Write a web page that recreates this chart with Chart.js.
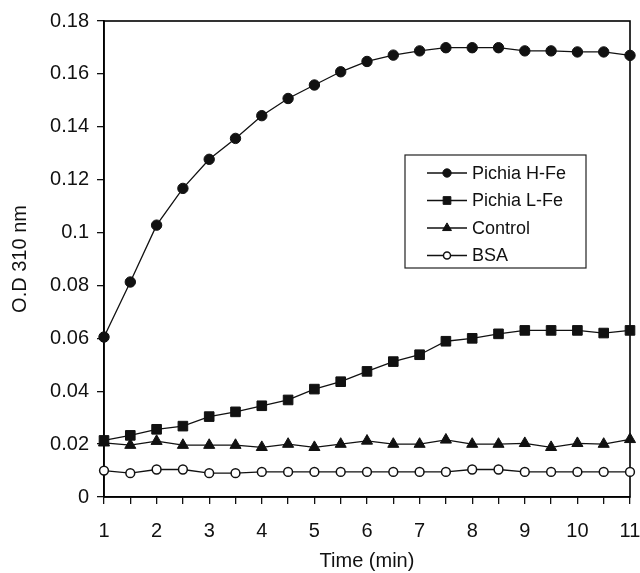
<!DOCTYPE html>
<html>
<head>
<meta charset="utf-8">
<script src="https://cdn.jsdelivr.net/npm/chart.js@4.4.1/dist/chart.umd.min.js"></script>
<style>
  html, body { margin: 0; padding: 0; background: #fff; }
  #wrap { width: 640px; height: 573px; }
</style>
</head>
<body>
<div id="wrap"><canvas id="odChart" width="640" height="573"></canvas></div>
<script>
// time points (min)
const times = [1, 1.5, 2, 2.5, 3, 3.5, 4, 4.5, 5, 5.5, 6, 6.5, 7, 7.5, 8, 8.5, 9, 9.5, 10, 10.5, 11];

// O.D 310 nm readings
const pichiaHFe = [0.0605, 0.0813, 0.1028, 0.1167, 0.1277, 0.1356, 0.1442, 0.1507, 0.1558, 0.1608, 0.1647,
                   0.1671, 0.1687, 0.1699, 0.1699, 0.1699, 0.1687, 0.1687, 0.1683, 0.1683, 0.1670];
const pichiaLFe = [0.0214, 0.0233, 0.0256, 0.0268, 0.0304, 0.0322, 0.0345, 0.0367, 0.0408, 0.0436, 0.0475,
                   0.0512, 0.0538, 0.0589, 0.0600, 0.0617, 0.0630, 0.0630, 0.0630, 0.0620, 0.0630];
const control   = [0.0205, 0.0196, 0.0211, 0.0196, 0.0196, 0.0196, 0.0188, 0.0200, 0.0188, 0.0200, 0.0212,
                   0.0200, 0.0200, 0.0216, 0.0200, 0.0200, 0.0203, 0.0188, 0.0203, 0.0200, 0.0218];
const bsa       = [0.0100, 0.0090, 0.0104, 0.0104, 0.0090, 0.0090, 0.0095, 0.0095, 0.0095, 0.0095, 0.0095,
                   0.0095, 0.0095, 0.0095, 0.0104, 0.0104, 0.0095, 0.0095, 0.0095, 0.0095, 0.0095];

const seriesNames = ['Pichia H-Fe', 'Pichia L-Fe', 'Control', 'BSA'];
const yTickValues = [0, 0.02, 0.04, 0.06, 0.08, 0.1, 0.12, 0.14, 0.16, 0.18];

const FONT = 'Liberation Sans, Arial, sans-serif';

function toPoints(values) {
    return times.map((t, i) => ({ x: t, y: values[i] }));
}

function makeSet(name, values, style, radius, fill) {
    return {
        label: name,
        data: toPoints(values),
        borderColor: '#111',
        borderWidth: 1.3,
        pointStyle: style,
        pointRadius: radius,
        pointBackgroundColor: fill,
        pointBorderColor: '#111',
        pointBorderWidth: fill === '#fff' ? 1.5 : 1,
        tension: 0,
        clip: false
    };
}

// frame around the plot area
const framePlugin = {
    id: 'frame',
    beforeDatasetsDraw(chart) {
        const a = chart.chartArea;
        const ctx = chart.ctx;
        ctx.save();
        ctx.strokeStyle = '#000';
        ctx.lineWidth = 1.6;
        ctx.strokeRect(a.left, a.top, a.right - a.left, a.bottom - a.top);
        ctx.restore();
    }
};

// boxed legend inside the plot, line sample with marker in the middle
const boxLegendPlugin = {
    id: 'boxLegend',
    afterDatasetsDraw(chart, args, opts) {
        const ctx = chart.ctx;
        ctx.save();
        ctx.fillStyle = '#fff';
        ctx.fillRect(opts.left, opts.top, opts.width, opts.height);
        ctx.strokeStyle = '#222';
        ctx.lineWidth = 1.2;
        ctx.strokeRect(opts.left, opts.top, opts.width, opts.height);
        ctx.font = opts.fontSize + 'px ' + FONT;
        ctx.textBaseline = 'middle';
        chart.data.datasets.forEach((ds, i) => {
            const y = opts.top + opts.firstRow + i * opts.rowGap;
            const x0 = opts.left + opts.lineStart;
            const x1 = x0 + opts.lineLen;
            ctx.strokeStyle = '#111';
            ctx.lineWidth = 1.3;
            ctx.beginPath();
            ctx.moveTo(x0, y);
            ctx.lineTo(x1, y);
            ctx.stroke();
            ctx.fillStyle = ds.pointBackgroundColor;
            ctx.strokeStyle = ds.pointBorderColor;
            ctx.lineWidth = ds.pointBorderWidth;
            Chart.helpers.drawPoint(ctx, {
                pointStyle: ds.pointStyle,
                radius: ds.pointRadius * 0.8,
                rotation: 0,
                borderWidth: ds.pointBorderWidth
            }, (x0 + x1) / 2, y);
            ctx.fillStyle = '#111';
            ctx.fillText(ds.label, x1 + 5, y + 1);
        });
        ctx.restore();
    }
};

const ctx = document.getElementById('odChart').getContext('2d');
const odChart = new Chart(ctx, {
    type: 'line',
    data: {
        datasets: [
            makeSet(seriesNames[0], pichiaHFe, 'circle', 5.2, '#111'),
            makeSet(seriesNames[1], pichiaLFe, 'rect', 6.8, '#111'),
            makeSet(seriesNames[2], control, 'triangle', 6.4, '#111'),
            makeSet(seriesNames[3], bsa, 'circle', 4.4, '#fff')
        ]
    },
    options: {
        responsive: false,
        animation: false,
        events: [],
        layout: {
            padding: { left: 0, right: 10, top: 21, bottom: 0 }
        },
        plugins: {
            legend: { display: false },
            tooltip: { enabled: false },
            boxLegend: {
                left: 405, top: 155, width: 181, height: 113,
                firstRow: 18, rowGap: 27.5, lineStart: 22, lineLen: 40, fontSize: 18
            }
        },
        scales: {
            x: {
                type: 'linear',
                min: 1,
                max: 11,
                afterFit: function (scale) {
                    scale.height = 76;
                    scale.paddingLeft = 0;
                    scale.paddingRight = 0;
                },
                ticks: {
                    stepSize: 0.5,
                    autoSkip: false,
                    maxRotation: 0,
                    padding: 15,
                    color: '#111',
                    font: { family: FONT, size: 20 },
                    callback: function (value) {
                        return Number.isInteger(value) ? String(value) : '';
                    }
                },
                grid: {
                    drawOnChartArea: false,
                    drawTicks: true,
                    tickLength: 7,
                    color: '#111',
                    lineWidth: 1.3
                },
                border: { display: true, color: '#000', width: 1.6 },
                title: {
                    display: true,
                    text: 'Time (min)',
                    color: '#111',
                    font: { family: FONT, size: 20 },
                    padding: { top: 0, bottom: 0 }
                }
            },
            y: {
                min: 0,
                max: 0.18,
                afterFit: function (scale) {
                    scale.width = 104;
                    scale.paddingTop = 0;
                    scale.paddingBottom = 0;
                },
                afterBuildTicks: function (scale) {
                    scale.ticks = yTickValues.map(v => ({ value: v }));
                },
                ticks: {
                    padding: 8,
                    color: '#111',
                    font: { family: FONT, size: 20 },
                    callback: function (value) {
                        return String(Number(value.toFixed(2)));
                    }
                },
                grid: {
                    drawOnChartArea: false,
                    drawTicks: true,
                    tickLength: 7,
                    color: '#111',
                    lineWidth: 1.3
                },
                border: { display: true, color: '#000', width: 1.6 },
                title: {
                    display: true,
                    text: 'O.D 310 nm',
                    color: '#111',
                    font: { family: FONT, size: 20 },
                    padding: { top: 8, bottom: 0 }
                }
            }
        }
    },
    plugins: [framePlugin, boxLegendPlugin]
});
</script>
</body>
</html>
